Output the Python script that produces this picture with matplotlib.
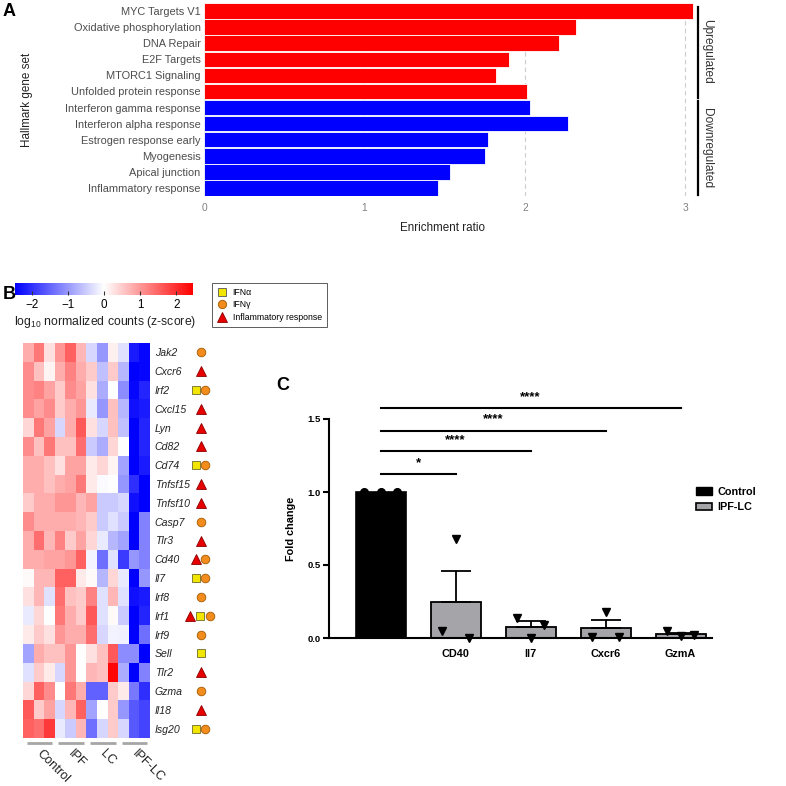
import matplotlib
matplotlib.use('Agg')
import matplotlib.pyplot as plt
import numpy as np
from matplotlib.colors import LinearSegmentedColormap
from matplotlib.lines import Line2D
from matplotlib.patches import Patch

plt.rcParams['font.family'] = ['Liberation Sans', 'DejaVu Sans']
plt.rcParams['mathtext.fontset'] = 'custom'
plt.rcParams['mathtext.rm'] = 'Liberation Sans'

# ---- panel A data ----
gene_sets = ['MYC Targets V1', 'Oxidative phosphorylation', 'DNA Repair', 'E2F Targets',
             'MTORC1 Signaling', 'Unfolded protein response', 'Interferon gamma response',
             'Interferon alpha response', 'Estrogen response early', 'Myogenesis',
             'Apical junction', 'Inflammatory response']
enrichment = [3.05, 2.32, 2.21, 1.90, 1.82, 2.01, 2.03, 2.27, 1.77, 1.75, 1.53, 1.46]
regulation = ['up'] * 6 + ['down'] * 6

# ---- panel B data ----
genes = ['Jak2', 'Cxcr6', 'Irf2', 'Cxcl15', 'Lyn', 'Cd82', 'Cd74', 'Tnfsf15', 'Tnfsf10',
         'Casp7', 'Tlr3', 'Cd40', 'Il7', 'Irf8', 'Irf1', 'Irf9', 'Sell', 'Tlr2', 'Gzma',
         'Il18', 'Isg20']
groups = ['Control', 'IPF', 'LC', 'IPF-LC']
zscore = [
    [0.8, 1.3, 0.3, 1.0, 1.5, 0.7, -0.4, -1.0, 0.15, -0.3, -2.2, -2.4],
    [1.1, 0.6, 0.1, 0.8, 1.2, 0.8, 0.5, -0.6, 0.5, -0.7, -2.5, -2.4],
    [1.1, 1.2, 0.9, 0.5, 1.1, 0.9, 0.3, -0.8, 0.0, -1.1, -2.4, -2.1],
    [1.1, 0.9, 1.1, 0.5, 0.8, 1.0, -0.2, -1.0, 0.6, -0.7, -2.3, -2.2],
    [0.4, 1.3, 0.9, -0.4, 0.8, 1.6, 0.3, -0.4, 0.6, -0.6, -2.5, -2.1],
    [1.1, 0.6, 1.3, 0.6, 0.6, 1.4, -0.5, -0.8, 0.4, 0.0, -2.5, -2.1],
    [0.8, 0.8, 0.6, 0.3, 0.9, 0.9, 0.2, 0.4, 0.1, -0.9, -2.5, -2.2],
    [0.8, 0.8, 0.6, 0.8, 0.9, 1.3, 0.2, -0.05, 0.0, -1.0, -2.0, -2.5],
    [0.5, 0.8, 0.8, 1.0, 1.0, 0.7, 0.9, -0.5, -0.5, -0.4, -2.3, -2.5],
    [1.1, 0.8, 0.8, 0.8, 0.8, 0.7, 0.5, -0.5, -0.3, -0.5, -2.5, -1.2],
    [0.8, 1.4, 0.7, 1.2, 0.5, 0.9, 0.4, -0.2, -0.7, -0.9, -2.5, -1.2],
    [0.8, 0.8, 0.9, 0.9, 1.0, 1.5, -0.1, -1.4, -0.3, -1.9, -1.0, -1.2],
    [0.05, 0.7, 0.7, 1.5, 1.5, 0.2, 0.05, -0.7, 0.4, -0.2, -2.5, -1.0],
    [0.3, 0.7, -0.3, 1.4, 0.6, 0.5, 1.2, -0.3, 0.7, -0.3, -2.3, -2.2],
    [-0.2, 0.4, 0.0, 1.3, 0.8, 0.5, 1.6, -0.3, 0.05, -0.5, -2.5, -2.1],
    [0.2, 0.5, 0.3, 1.0, 0.8, 0.8, 1.4, -0.4, -0.1, -0.15, -2.5, -1.4],
    [-0.9, 0.8, 0.6, 0.6, 1.0, 0.0, 0.3, 0.6, 1.6, -1.1, -1.1, -2.5],
    [-0.3, 0.5, 0.2, -0.4, 1.0, 0.0, 0.7, 0.6, 2.4, -0.8, -2.5, -1.2],
    [0.4, 1.5, 1.1, 0.0, 1.3, 0.8, -1.5, -1.5, 0.5, 0.2, -1.3, -2.0],
    [1.6, 0.5, 0.9, -0.4, 0.7, 1.5, -0.9, 0.0, 0.5, -1.0, -1.6, -1.8],
    [1.5, 1.4, 1.9, -0.2, -0.5, 0.7, -1.4, -0.4, 0.5, -0.4, -1.6, -1.8],
]
# i = inflammatory response, a = IFN alpha, g = IFN gamma
annotation = ['g', 'i', 'ag', 'i', 'i', 'i', 'ag', 'i', 'i', 'g', 'i', 'ig', 'ag', 'g',
              'iag', 'g', 'a', 'i', 'g', 'i', 'ag']

# ---- panel C data ----
qpcr_genes = ['CD40', 'Il7', 'Cxcr6', 'GzmA']
control_pts = [1.0, 1.0, 1.0]
cd40_pts = [0.05, 0.68, 0.0]
il7_pts = [0.14, 0.0, 0.09]
cxcr6_pts = [0.01, 0.18, 0.01]
gzma_pts = [0.045, 0.015, 0.02]
signif = ['*', '****', '****', '****']

W = 786.0
fig = plt.figure(figsize=(7.86, 7.86), dpi=100)


def fx(px):
    return px / W


def fy(py):
    return 1 - py / W


# ================= A =================
axA = fig.add_axes([fx(204), fy(196), 491 / W, 193 / W])
ypos = np.arange(len(gene_sets))[::-1]
colors = ['#ff0000' if r == 'up' else '#0000ff' for r in regulation]
axA.barh(ypos, enrichment, height=0.96, color=colors, edgecolor='white', linewidth=0.6, zorder=2)
axA.set_yticks(ypos)
axA.set_yticklabels(gene_sets, fontsize=7.9, color='#4d4d4d')
axA.set_xticks([0, 1, 2, 3])
axA.tick_params(axis='x', labelsize=7.3, labelcolor='#7f7f7f', length=0, pad=5)
axA.tick_params(axis='y', length=0, pad=2.5)
axA.grid(axis='x', linestyle=(0, (4, 3)), color='#cccccc', linewidth=0.8, zorder=0)
for s in axA.spines.values():
    s.set_visible(False)
axA.plot([3.078, 3.078], [5.59, 11.25], color='black', lw=1.6, clip_on=False)
axA.plot([3.078, 3.078], [-0.44, 5.41], color='black', lw=1.6, clip_on=False)
axA.text(3.135, 8.5, 'Upregulated', rotation=270, ha='center', va='center', fontsize=8.6,
         color='#333333')
axA.text(3.135, 2.5, 'Downregulated', rotation=270, ha='center', va='center', fontsize=8.6,
         color='#333333')
axA.set_xlim(0, 3.06)
axA.set_ylim(-0.5, 11.5)
fig.text(fx(27), fy(100), 'Hallmark gene set', rotation=90, ha='center', va='center',
         fontsize=8.4, color='#222222')
fig.text(fx(442), fy(228), 'Enrichment ratio', ha='center', va='center', fontsize=8.4,
         color='#222222')
fig.text(fx(3), fy(11), 'A', fontsize=13, fontweight='bold', va='center')

# ================= B =================
cmap = LinearSegmentedColormap.from_list('bwr2', ['#0000ff', '#ffffff', '#ff0000'])
axB = fig.add_axes([fx(23), fy(738), 127 / W, 395 / W])
z = np.array(zscore)
nrow = len(genes)
im = axB.imshow(z, cmap=cmap, vmin=-2.46, vmax=2.46, aspect='auto',
                extent=(0, 12, nrow, 0), interpolation='nearest')
axB.set_xticks([])
axB.set_yticks(np.arange(nrow) + 0.5)
axB.set_yticklabels(genes, fontsize=7.6, fontstyle='italic', color='#222222')
axB.yaxis.tick_right()
axB.tick_params(axis='y', length=0, pad=3.5)
for s in axB.spines.values():
    s.set_visible(False)

offsets = {1: [16.8], 2: [16.3, 17.2], 3: [15.8, 16.75, 17.7]}
mstyle = {
    'i': dict(marker='^', color='#e60000', ms=7.0, mec='#8b0000'),
    'a': dict(marker='s', color='#f2e600', ms=5.4, mec='#6b6b2a'),
    'g': dict(marker='o', color='#f28c1c', ms=6.2, mec='#a35a00'),
}
for r, ann in enumerate(annotation):
    xs = offsets[len(ann)]
    for k, code in enumerate(ann):
        st = mstyle[code]
        axB.plot(xs[k], r + 0.5, marker=st['marker'], color='none', mfc=st['color'],
                 mec=st['mec'], ms=st['ms'], mew=0.6, clip_on=False)

for g, name in enumerate(groups):
    axB.plot([g * 3 + 0.35, g * 3 + 2.75], [nrow + 0.27, nrow + 0.27], color='#a6a6a6', lw=2,
             clip_on=False, solid_capstyle='butt')
    axB.text(g * 3 + 1.05, nrow + 0.5, name, rotation=-45, ha='left', va='top', fontsize=9.2,
             color='#222222', clip_on=False)
axB.set_xlim(0, 12)
axB.set_ylim(nrow, 0)

cax = fig.add_axes([fx(15), fy(295), 178 / W, 12 / W])
cb = fig.colorbar(im, cax=cax, orientation='horizontal', ticks=[-2, -1, 0, 1, 2])
cb.outline.set_visible(False)
cax.tick_params(labelsize=8.4, length=3, direction='in', color='#333333', pad=3)
fig.text(fx(105), fy(322), 'log$_{10}$ normalized counts (z-score)', ha='center', va='center',
         fontsize=8.8, color='#222222')

leg_handles = [
    Line2D([], [], ls='none', marker='s', mfc='#f2e600', mec='#555555', ms=5.5, mew=0.6),
    Line2D([], [], ls='none', marker='o', mfc='#f28c1c', mec='#a35a00', ms=6, mew=0.6),
    Line2D([], [], ls='none', marker='^', mfc='#e60000', mec='#8b0000', ms=6.5, mew=0.6),
]
legB = fig.legend(leg_handles, ['IFN\u03b1', 'IFN\u03b3', 'Inflammatory response'],
                  loc='upper left', bbox_to_anchor=(fx(212), fy(283)), fontsize=6.3,
                  frameon=True, fancybox=False, edgecolor='#333333', handlelength=1.2,
                  handletextpad=0.6, labelspacing=0.4, borderpad=0.55, borderaxespad=0)
legB.get_frame().set_linewidth(0.7)
fig.text(fx(3), fy(294), 'B', fontsize=13, fontweight='bold', va='center')

# ================= C =================
axC = fig.add_axes([fx(329), fy(638), 383 / W, 219 / W])
pts = [cd40_pts, il7_pts, cxcr6_pts, gzma_pts]
xc = np.arange(1, len(qpcr_genes) + 1)
means = [np.mean(p) for p in pts]
sems = [np.std(p, ddof=1) / np.sqrt(len(p)) for p in pts]
bw = 0.667
axC.bar(0, np.mean(control_pts), width=bw, color='black', edgecolor='black', lw=1.2,
        zorder=2)
axC.bar(xc, means, width=bw, color='#a5a5a9', edgecolor='black', lw=1.3, zorder=2)
axC.errorbar(xc, means, yerr=[np.zeros(len(sems)), sems], fmt='none', ecolor='black',
             elinewidth=1.3, capsize=11, capthick=1.3, zorder=3)
axC.plot(np.array([-0.22, 0, 0.22]), control_pts, ls='none', marker='o', color='black',
         ms=5.5, zorder=4, clip_on=False)
jit = np.array([-0.18, 0, 0.18])
for x, p in zip(xc, pts):
    axC.plot(x + jit, p, ls='none', marker='v', color='black', ms=5.5, zorder=4,
             clip_on=False)
axC.set_yticks([0, 0.5, 1.0, 1.5])
axC.set_yticklabels(['0.0', '0.5', '1.0', '1.5'], fontsize=6.8, fontweight='bold')
axC.set_xticks(xc)
axC.set_xticklabels(qpcr_genes, fontsize=7.8, fontweight='bold')
axC.tick_params(axis='x', length=0, pad=8)
axC.tick_params(axis='y', length=4, width=1.5, pad=2)
axC.spines['top'].set_visible(False)
axC.spines['right'].set_visible(False)
axC.spines['left'].set_linewidth(1.5)
axC.spines['bottom'].set_linewidth(1.5)
axC.set_ylabel('Fold change', fontsize=7.8, fontweight='bold', labelpad=8)

line_y = [1.12, 1.28, 1.42, 1.575]
for x, yv, lab in zip(xc, line_y, signif):
    axC.plot([0, x], [yv, yv], color='black', lw=1.5, clip_on=False)
    axC.text(x / 2, yv + 0.035, lab, ha='center', va='bottom', fontsize=9.5,
             fontweight='bold', clip_on=False)
axC.set_xlim(-0.69, 4.42)
axC.set_ylim(0, 1.5)

legC = fig.legend([Patch(facecolor='black', edgecolor='black'),
                   Patch(facecolor='#a5a5a9', edgecolor='black', lw=1.2)],
                  ['Control', 'IPF-LC'], loc='upper left',
                  bbox_to_anchor=(fx(696), fy(487)), frameon=False,
                  prop={'weight': 'bold', 'size': 7.8}, handlelength=1.5,
                  handleheight=0.7, handletextpad=0.5, labelspacing=0.5, borderpad=0,
                  borderaxespad=0)
fig.text(fx(276), fy(386), 'C', fontsize=13, fontweight='bold', va='center')

fig.savefig('out.png', dpi=100)
